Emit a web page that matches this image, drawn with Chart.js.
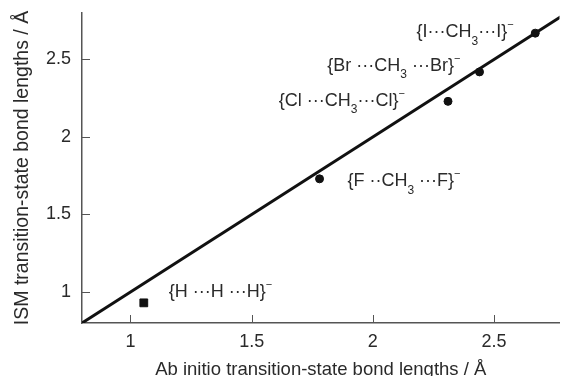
<!DOCTYPE html>
<html>
<head>
<meta charset="utf-8">
<script src="https://cdn.jsdelivr.net/npm/chart.js@4/dist/chart.umd.min.js"></script>
<style>
  html, body { margin: 0; padding: 0; background: #fff; overflow: hidden; }
  #wrap { width: 566px; height: 376px; position: relative; }
</style>
</head>
<body>
<div id="wrap"><canvas id="c"></canvas></div>
<script>
"use strict";

// halide identity SN2 transition states
const halAbInitio = [1.78, 2.31, 2.44, 2.67];
const halIsm = [1.73, 2.23, 2.42, 2.67];
// H + H2
const hAbInitio = [1.055];
const hIsm = [0.93];
// y = x reference
const diagonal = [0.8, 2.8];

const xTicks = [1, 1.5, 2, 2.5];
const yTicks = [1, 1.5, 2, 2.5];

// "_" = subscript, "^" = superscript
const labelText = [
  "{I\u00B7\u00B7\u00B7CH_3\u00B7\u00B7\u00B7I}^\u2212",
  "{Br \u00B7\u00B7\u00B7CH_3 \u00B7\u00B7\u00B7Br}^\u2212",
  "{Cl \u00B7\u00B7\u00B7CH_3\u00B7\u00B7\u00B7Cl}^\u2212",
  "{F \u00B7\u00B7CH_3 \u00B7\u00B7\u00B7F}^\u2212",
  "{H \u00B7\u00B7\u00B7H \u00B7\u00B7\u00B7H}^\u2212",
];
const labelX = [2.18, 1.812, 1.612, 1.895, 1.158];
const labelY = [2.676, 2.459, 2.232, 1.714, 1.002];

const FONT = '"Liberation Sans", Arial, sans-serif';
const INK = "#2a2a2a";
const AXIS = "#555";

const pts = (xs, ys) => xs.map((x, i) => ({ x, y: ys[i] }));

function parseRich(s) {
  const out = [];
  let i = 0, buf = "";
  while (i < s.length) {
    const ch = s[i];
    if (ch === "_" || ch === "^") {
      if (buf) out.push([buf, 0]);
      buf = "";
      out.push([s[i + 1], ch === "_" ? -1 : 1]);
      i += 2;
    } else {
      buf += ch;
      i++;
    }
  }
  if (buf) out.push([buf, 0]);
  return out;
}

const decor = {
  id: "decor",
  afterDraw(chart) {
    const { ctx, scales } = chart;
    const xs = scales.x, ys = scales.y;
    const area = chart.chartArea;
    ctx.save();
    // inward tick marks
    ctx.strokeStyle = AXIS;
    ctx.lineWidth = 1;
    xTicks.forEach((v) => {
      const px = Math.round(xs.getPixelForValue(v)) + 0.5;
      ctx.beginPath();
      ctx.moveTo(px, area.bottom);
      ctx.lineTo(px, area.bottom - 8);
      ctx.stroke();
    });
    yTicks.forEach((v) => {
      const py = Math.round(ys.getPixelForValue(v)) + 0.5;
      ctx.beginPath();
      ctx.moveTo(area.left, py);
      ctx.lineTo(area.left + 8, py);
      ctx.stroke();
    });
    // species labels
    ctx.fillStyle = INK;
    ctx.textBaseline = "middle";
    ctx.textAlign = "left";
    labelText.forEach((t, k) => {
      let px = xs.getPixelForValue(labelX[k]);
      const py = ys.getPixelForValue(labelY[k]);
      parseRich(t).forEach(([str, lvl]) => {
        ctx.font = (lvl < 0 ? "12px " : lvl > 0 ? "11px " : "18px ") + FONT;
        const dy = lvl < 0 ? 9 : lvl > 0 ? -7 : 0;
        ctx.fillText(str, px, py + dy);
        px += ctx.measureText(str).width;
      });
    });
    ctx.restore();
  },
};

new Chart(document.getElementById("c"), {
  type: "scatter",
  data: {
    datasets: [
      {
        type: "line",
        data: pts(diagonal, diagonal),
        borderColor: "#111",
        borderWidth: 3,
        pointRadius: 0,
        fill: false,
      },
      {
        data: pts(halAbInitio, halIsm),
        backgroundColor: "#111",
        borderColor: "#111",
        pointStyle: "circle",
        pointRadius: 4,
      },
      {
        data: pts(hAbInitio, hIsm),
        backgroundColor: "#111",
        borderColor: "#111",
        pointStyle: "rect",
        pointRadius: 5.5,
      },
    ],
  },
  options: {
    responsive: true,
    maintainAspectRatio: false,
    animation: false,
    layout: { padding: { top: 13, right: 0, left: 0, bottom: 0 } },
    plugins: { legend: { display: false }, tooltip: { enabled: false } },
    scales: {
      x: {
        type: "linear",
        min: 0.8,
        max: 2.77,
        afterBuildTicks: (s) => { s.ticks = xTicks.map((v) => ({ value: v })); },
        afterFit: (s) => { s.height = 53; s.paddingLeft = 0; s.paddingRight = 0; },
        grid: { display: false, drawTicks: false },
        border: { display: true, color: AXIS, width: 1.5 },
        ticks: { color: INK, font: { family: FONT, size: 18 }, padding: 8, callback: (v) => String(v) },
        title: {
          display: true,
          text: "Ab initio transition-state bond lengths / \u00C5",
          color: INK,
          font: { family: FONT, size: 18.5 },
          padding: { top: 4, bottom: -5 },
        },
      },
      y: {
        type: "linear",
        min: 0.8,
        max: 2.8,
        afterBuildTicks: (s) => { s.ticks = yTicks.map((v) => ({ value: v })); },
        afterFit: (s) => { s.width = 82; s.paddingTop = 0; s.paddingBottom = 0; },
        grid: { display: false, drawTicks: false },
        border: { display: true, color: AXIS, width: 1.5 },
        ticks: { color: INK, font: { family: FONT, size: 18 }, padding: 11, callback: (v) => String(v) },
        title: {
          display: true,
          text: "ISM transition-state bond lengths / \u00C5",
          color: INK,
          font: { family: FONT, size: 19.5 },
          padding: { top: 11, bottom: 0 },
        },
      },
    },
  },
  plugins: [decor],
});
</script>
</body>
</html>
